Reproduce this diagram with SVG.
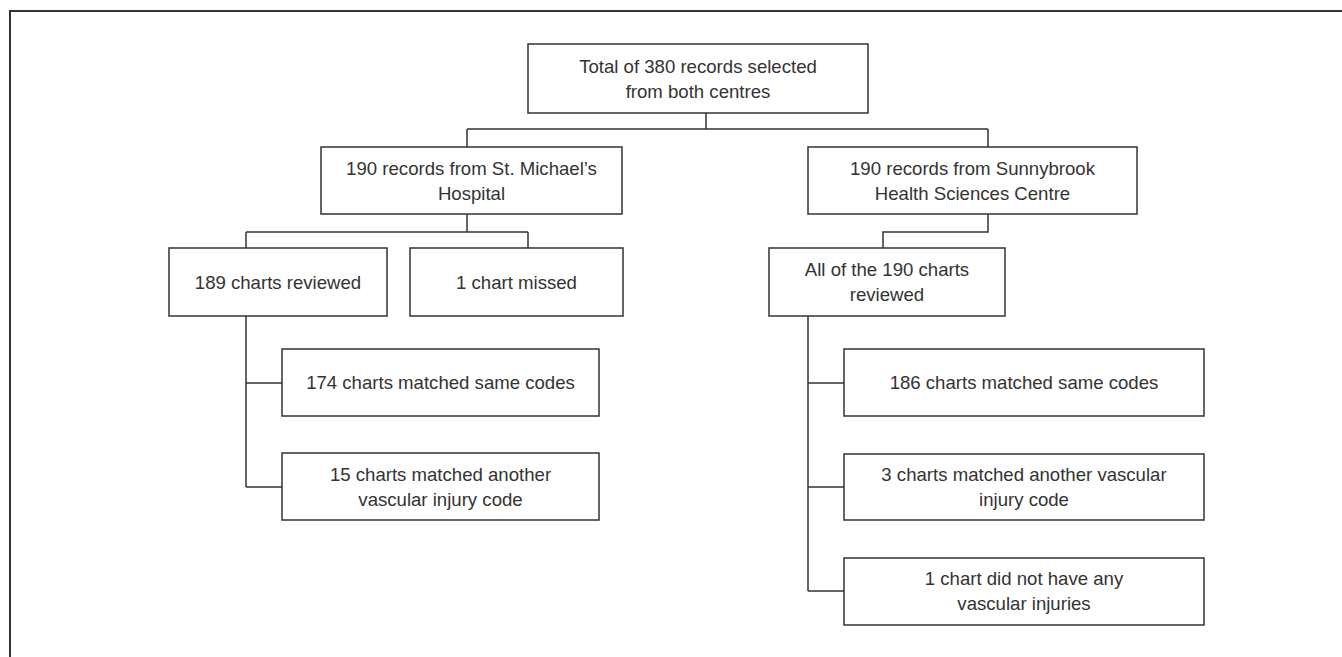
<svg xmlns="http://www.w3.org/2000/svg" width="1342" height="657" viewBox="0 0 1342 657">
<style>
.box{fill:#fff;stroke:#333;stroke-width:1.5}
.ln{fill:none;stroke:#333;stroke-width:1.5}
text{font-family:"Liberation Sans",Arial,sans-serif;font-size:18.6px;fill:#333;text-anchor:middle}
</style>
<rect x="0" y="0" width="1342" height="657" fill="#fff"/>
<path d="M10 670 V11 H1360" fill="none" stroke="#333" stroke-width="2"/>
<g id="connectors">
<path class="ln" d="M706 113 V129 M467 129 H988 M467 129 V147 M988 129 V147"/>
<path class="ln" d="M467 214 V232 M246 232 H528 M246 232 V248 M528 232 V248"/>
<path class="ln" d="M246 316 V487 M246 383 H282 M246 487 H282"/>
<path class="ln" d="M988 214 V232 H883 V248"/>
<path class="ln" d="M808 316 V591 M808 383 H844 M808 487 H844 M808 591 H844"/>
</g>
<g id="n-total">
<rect class="box" x="528" y="44" width="340" height="69"/>
<text x="698" y="73">Total of 380 records selected</text>
<text x="698" y="98">from both centres</text>
</g>
<g id="n-stmichaels">
<rect class="box" x="321" y="147" width="301" height="67"/>
<text x="471.5" y="175">190 records from St. Michael’s</text>
<text x="471.5" y="200">Hospital</text>
</g>
<g id="n-sunnybrook">
<rect class="box" x="808" y="147" width="329" height="67"/>
<text x="972.5" y="175">190 records from Sunnybrook</text>
<text x="972.5" y="200">Health Sciences Centre</text>
</g>
<g id="n-189">
<rect class="box" x="169" y="248" width="218" height="68"/>
<text x="278" y="288.5">189 charts reviewed</text>
</g>
<g id="n-missed">
<rect class="box" x="410" y="248" width="213" height="68"/>
<text x="516.5" y="288.5">1 chart missed</text>
</g>
<g id="n-all190">
<rect class="box" x="769" y="248" width="236" height="68"/>
<text x="887" y="276">All of the 190 charts</text>
<text x="887" y="301">reviewed</text>
</g>
<g id="n-174">
<rect class="box" x="282" y="349" width="317" height="67"/>
<text x="440.5" y="389">174 charts matched same codes</text>
</g>
<g id="n-15">
<rect class="box" x="282" y="453" width="317" height="67"/>
<text x="440.5" y="481">15 charts matched another</text>
<text x="440.5" y="506">vascular injury code</text>
</g>
<g id="n-186">
<rect class="box" x="844" y="349" width="360" height="67"/>
<text x="1024" y="389">186 charts matched same codes</text>
</g>
<g id="n-3">
<rect class="box" x="844" y="454" width="360" height="66"/>
<text x="1024" y="481">3 charts matched another vascular</text>
<text x="1024" y="506">injury code</text>
</g>
<g id="n-1none">
<rect class="box" x="844" y="558" width="360" height="67"/>
<text x="1024" y="585">1 chart did not have any</text>
<text x="1024" y="610">vascular injuries</text>
</g>
</svg>
